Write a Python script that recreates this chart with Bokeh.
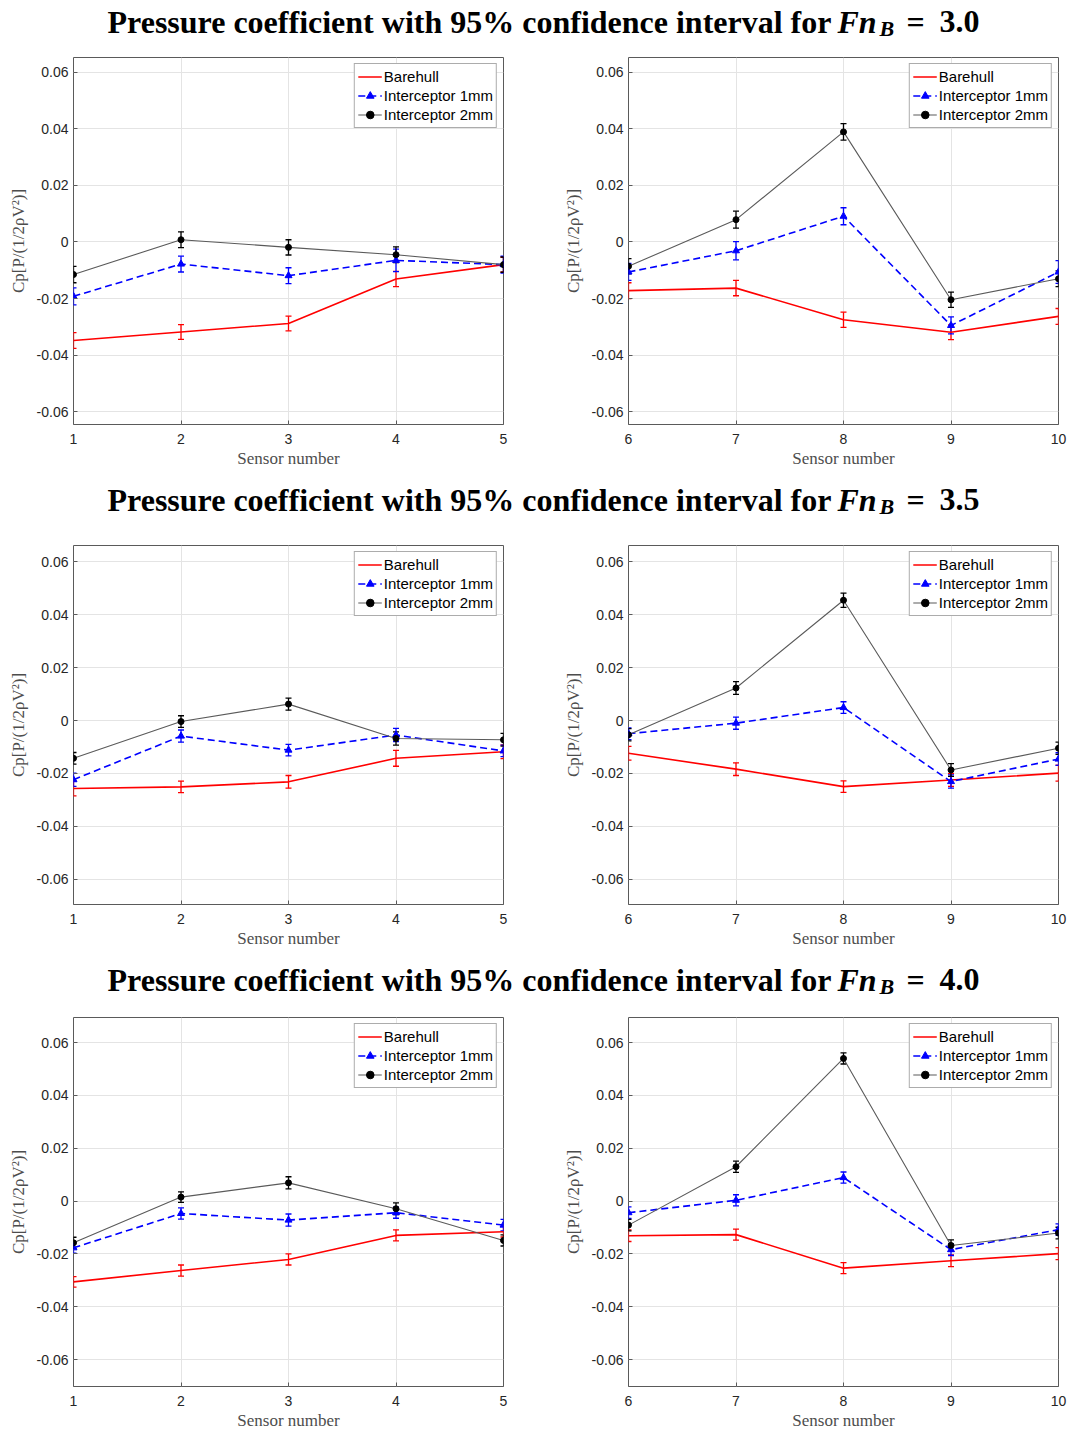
import numpy as np
from bokeh.plotting import figure
from bokeh.layouts import column, row
from bokeh.models import (Range1d, ColumnDataSource, Whisker, TeeHead, Legend, LegendItem,
                          FixedTicker, CustomJSTickFormatter)
from bokeh.core.properties import value
from bokeh.embed import file_html
from bokeh.resources import INLINE

# ---------------- data ----------------
sensors = [1, 2, 3, 4, 5, 6, 7, 8, 9, 10]
froude_labels = ["3.0", "3.5", "4.0"]
y_ticks = [-0.06, -0.04, -0.02, 0.0, 0.02, 0.04, 0.06]
series_names = ["Barehull", "Interceptor 1mm", "Interceptor 2mm"]

# Fn_B = 3.0
bare_30 = [-0.0348, -0.0318, -0.0288, -0.0131, -0.0080, -0.0172, -0.0163, -0.0275, -0.0319, -0.0263]
int1_30 = [-0.0192, -0.0078, -0.0119, -0.0065, -0.0080, -0.0106, -0.0031, 0.0091, -0.0295, -0.0106]
int2_30 = [-0.0115, 0.0008, -0.0019, -0.0045, -0.0080, -0.0086, 0.0079, 0.0389, -0.0204, -0.0130]
ci_bare_30 = [0.0028, 0.0026, 0.0026, 0.0027, 0.0026, 0.0028, 0.0027, 0.0027, 0.0026, 0.0028]
ci_int1_30 = [0.0030, 0.0028, 0.0028, 0.0040, 0.0030, 0.0030, 0.0032, 0.0030, 0.0030, 0.0040]
ci_int2_30 = [0.0029, 0.0028, 0.0027, 0.0028, 0.0027, 0.0027, 0.0030, 0.0029, 0.0027, 0.0028]

# Fn_B = 3.5
bare_35 = [-0.0257, -0.0251, -0.0232, -0.0143, -0.0118, -0.0124, -0.0184, -0.0250, -0.0225, -0.0199]
int1_35 = [-0.0224, -0.0059, -0.0112, -0.0055, -0.0115, -0.0050, -0.0010, 0.0049, -0.0231, -0.0146]
int2_35 = [-0.0143, -0.0004, 0.0062, -0.0068, -0.0073, -0.0054, 0.0123, 0.0455, -0.0187, -0.0105]
ci_bare_35 = [0.0028, 0.0022, 0.0024, 0.0030, 0.0026, 0.0026, 0.0024, 0.0022, 0.0024, 0.0030]
ci_int1_35 = [0.0025, 0.0023, 0.0022, 0.0025, 0.0022, 0.0022, 0.0023, 0.0022, 0.0025, 0.0024]
ci_int2_35 = [0.0022, 0.0022, 0.0023, 0.0025, 0.0024, 0.0023, 0.0024, 0.0027, 0.0024, 0.0023]

# Fn_B = 4.0
bare_40 = [-0.0306, -0.0263, -0.0221, -0.0130, -0.0116, -0.0131, -0.0127, -0.0254, -0.0226, -0.0199]
int1_40 = [-0.0177, -0.0047, -0.0072, -0.0044, -0.0091, -0.0044, 0.0003, 0.0089, -0.0184, -0.0108]
int2_40 = [-0.0158, 0.0015, 0.0069, -0.0029, -0.0149, -0.0091, 0.0130, 0.0540, -0.0168, -0.0121]
ci_bare_40 = [0.0020, 0.0021, 0.0021, 0.0021, 0.0020, 0.0022, 0.0021, 0.0021, 0.0022, 0.0023]
ci_int1_40 = [0.0020, 0.0021, 0.0023, 0.0021, 0.0022, 0.0022, 0.0021, 0.0021, 0.0022, 0.0022]
ci_int2_40 = [0.0021, 0.0020, 0.0023, 0.0022, 0.0021, 0.0022, 0.0021, 0.0021, 0.0021, 0.0022]

datasets = [
    (bare_30, int1_30, int2_30, ci_bare_30, ci_int1_30, ci_int2_30),
    (bare_35, int1_35, int2_35, ci_bare_35, ci_int1_35, ci_int2_35),
    (bare_40, int1_40, int2_40, ci_bare_40, ci_int1_40, ci_int2_40),
]

# ---------------- style / layout ----------------
RED, BLUE, BLACK = "#ff0000", "#0000ff", "#000000"
AXC = "#262626"
BOXC = "#5a5a5a"
y_ranges = [(-0.0645, 0.0652), (-0.0696, 0.0662), (-0.0702, 0.0695)]
frame_heights = [367, 359, 369]
bottom_borders = [48, 48, 40]
title_tops = [0, 472, 952]
title_heights = [50, 66, 58]
title_centers = [22, 500, 980]

yfmt = CustomJSTickFormatter(code='return Math.abs(tick) < 1e-9 ? "0" : tick.toFixed(2);')


def panel(xs, vals, cis, yr, fh, bb, left_b, right_b):
    p = figure(frame_width=430, frame_height=fh,
               x_range=Range1d(xs[0], xs[-1]), y_range=Range1d(*yr),
               output_backend="svg", toolbar_location=None,
               min_border_left=left_b, min_border_right=right_b,
               min_border_top=7, min_border_bottom=bb,
               background_fill_color="white", border_fill_color="white")
    p.outline_line_color = BOXC
    p.outline_line_width = 1
    p.xaxis.ticker = FixedTicker(ticks=xs)
    p.yaxis.ticker = FixedTicker(ticks=y_ticks)
    p.yaxis.formatter = yfmt
    p.xgrid.ticker = FixedTicker(ticks=xs)
    p.ygrid.ticker = FixedTicker(ticks=y_ticks)
    p.grid.grid_line_color = "#e4e4e4"
    p.grid.grid_line_width = 1
    for ax in (p.xaxis[0], p.yaxis[0]):
        ax.axis_line_color = None
        ax.major_tick_in = 4
        ax.major_tick_out = 0
        ax.major_tick_line_color = BOXC
        ax.minor_tick_line_color = None
        ax.major_label_text_font = "Liberation Sans"
        ax.major_label_text_font_size = "14px"
        ax.major_label_text_color = AXC
        ax.axis_label_text_font = "Liberation Serif"
        ax.axis_label_text_font_style = "normal"
        ax.axis_label_text_font_size = "17px"
        ax.axis_label_text_color = "#4d4d4d"
    p.xaxis.major_label_standoff = 9
    p.xaxis.axis_label = "Sensor number"
    p.xaxis.axis_label_standoff = 2
    p.yaxis.major_label_standoff = 5
    p.yaxis.axis_label = "Cp[P/(1/2ρV²)]"
    p.yaxis.axis_label_standoff = 6

    bare, i1, i2, cb, c1, c2 = vals[0], vals[1], vals[2], cis[0], cis[1], cis[2]
    items = []
    specs = [
        (bare, cb, RED, RED, None, 1.6, "solid", series_names[0]),
        (i1, c1, BLUE, BLUE, "triangle", 1.6, "7 4", series_names[1]),
        (i2, c2, BLACK, "#5a5a5a", "circle", 1.1, "solid", series_names[2]),
    ]
    for v, c, col, lcol, mk, lw, dash, name in specs:
        src = ColumnDataSource(dict(x=xs, y=v,
                                    lo=[a - b for a, b in zip(v, c)],
                                    hi=[a + b for a, b in zip(v, c)]))
        rl = p.line("x", "y", source=src, line_color=lcol, line_width=lw, line_dash=dash)
        w = Whisker(base="x", upper="hi", lower="lo", source=src, line_color=col, line_width=1.3,
                    upper_head=TeeHead(size=6, line_color=col, line_width=1.3),
                    lower_head=TeeHead(size=6, line_color=col, line_width=1.3))
        p.add_layout(w)
        rends = [rl]
        if mk is not None:
            rm = p.scatter("x", "y", source=src, marker=mk, size=7 if mk == "triangle" else 6,
                           fill_color=col, line_color=col)
            rends.append(rm)
        leg_eb = p.scatter(x=[], y=[], marker="cross", size=8, line_color=col, line_width=1.3)
        rends.append(leg_eb)
        items.append(LegendItem(label=name, renderers=rends))

    legend = Legend(items=items, location="top_right", margin=6, padding=3, spacing=0,
                    glyph_width=24, glyph_height=19, label_height=19, label_standoff=2,
                    label_text_font="Liberation Sans", label_text_font_size="15px",
                    label_text_color="#000000", border_line_color=BOXC, border_line_width=1,
                    background_fill_color="white", background_fill_alpha=1.0)
    p.add_layout(legend)
    return p


def title_fig(top, height, center, fn):
    t = figure(width=1068, height=height, x_range=Range1d(0, 1068),
               y_range=Range1d(top + height, top), output_backend="svg",
               toolbar_location=None, min_border=0, x_axis_location=None,
               y_axis_location=None, outline_line_color=None,
               background_fill_color="white", border_fill_color="white")
    t.grid.visible = False
    yc = center - 1
    font = value("Liberation Serif")
    common = dict(text_font=font, text_baseline="middle", text_align="left", text_color="black")
    t.text(x=[107], y=[yc], text=["Pressure coefficient with 95% confidence interval for"],
           text_font_style="bold", text_font_size="32px", **common)
    t.text(x=[837], y=[yc], text=["Fn"], text_font_style="bold italic",
           text_font_size="32px", **common)
    t.text(x=[879], y=[yc + 7], text=["B"], text_font_style="bold italic",
           text_font_size="22px", **common)
    t.text(x=[906], y=[yc], text=["="], text_font_style="bold",
           text_font_size="32px", **common)
    t.text(x=[939], y=[yc], text=[fn], text_font_style="bold",
           text_font_size="32px", **common)
    return t


blocks = []
for k in range(3):
    bare, i1, i2, cb, c1, c2 = datasets[k]
    blocks.append(title_fig(title_tops[k], title_heights[k], title_centers[k], froude_labels[k]))
    left = panel(sensors[:5], (bare[:5], i1[:5], i2[:5]), (cb[:5], c1[:5], c2[:5]),
                 y_ranges[k], frame_heights[k], bottom_borders[k], 73, 57)
    right = panel(sensors[5:], (bare[5:], i1[5:], i2[5:]), (cb[5:], c1[5:], c2[5:]),
                  y_ranges[k], frame_heights[k], bottom_borders[k], 68, 10)
    blocks.append(row(left, right))

layout = column(*blocks)
open("out.html", "w").write(file_html(layout, INLINE))
